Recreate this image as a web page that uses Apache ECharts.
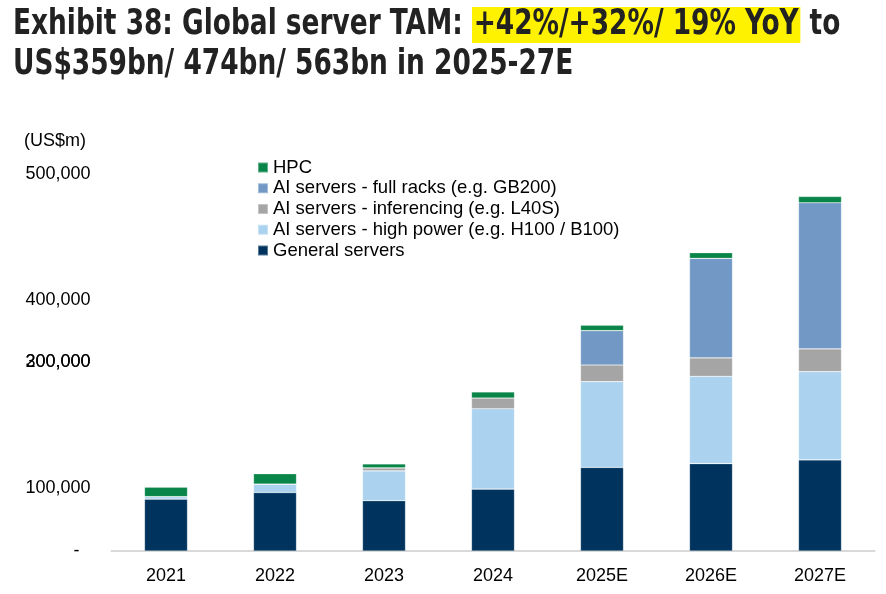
<!DOCTYPE html>
<html>
<head>
<meta charset="utf-8">
<script src="https://cdn.jsdelivr.net/npm/echarts@6/dist/echarts.min.js"></script>
<style>
html,body{margin:0;padding:0;background:#fff;}
#chart{width:886px;height:594px;}
</style>
</head>
<body>
<div id="chart"></div>
<script>
// ---- data (US$m) ----
const categories = ['2021', '2022', '2023', '2024', '2025E', '2026E', '2027E'];
const generalServers = [82500, 93000, 80000, 98500, 133000, 139000, 145000];
const aiHighPower    = [4000, 13500, 47500, 128000, 136500, 139000, 140500];
const aiInferencing  = [0, 0, 4800, 17000, 26500, 29300, 36200];
const aiFullRacks    = [0, 0, 0, 0, 54700, 158400, 232500];
const hpc            = [15000, 16400, 6400, 9600, 8500, 9100, 10000];

// y-axis tick labels as printed in the source (value -> label)
const yTickValues = [0, 100000, 200000, 300000, 400000, 500000, 600000];
const yTickLabels = ['-', '100,000', '', '300,000', '400,000', '', '500,000'];
const yOverlayLabels = ['', '', '', '200,000', '', '', ''];

const seriesNames = [
  'General servers',
  'AI servers - high power (e.g. H100 / B100)',
  'AI servers - inferencing (e.g. L40S)',
  'AI servers - full racks (e.g. GB200)',
  'HPC'
];
const seriesColors = ['#00345E', '#ABD3F0', '#A5A5A5', '#7299C5', '#0A8549'];
const seriesData = [generalServers, aiHighPower, aiInferencing, aiFullRacks, hpc];

const FONT = '"Liberation Sans", Arial, sans-serif';
const TITLE_FONT = '"DejaVu Sans Condensed", "DejaVu Sans", sans-serif';

function labelFor(list) {
  return function (v) {
    const i = yTickValues.indexOf(v);
    if (i < 0) return '';
    const s = list[i];
    if (s === '-') return '{d|-}';
    return s;
  };
}

const chart = echarts.init(document.getElementById('chart'), null, {renderer: 'canvas'});
const yAxisCommon = {
  type: 'value',
  min: 0,
  max: 600000,
  interval: 100000,
  position: 'left',
  axisLine: {show: false},
  axisTick: {show: false},
  splitLine: {show: false}
};
const option = {
  backgroundColor: '#ffffff',
  animation: false,
  title: [
    {
      left: 24,
      top: 132,
      padding: 0,
      text: '(US$m)',
      textStyle: {fontFamily: FONT, fontWeight: 'normal', fontSize: 18, color: '#000'}
    }
  ],
  graphic: [
    {
      type: 'text',
      x: 13,
      y: 5,
      scaleX: 0.815,
      scaleY: 1,
      silent: true,
      style: {
        x: 0,
        y: 0,
        verticalAlign: 'top',
        text: '{a|Exhibit 38: Global server TAM: }{h|+42%/+32%/ 19% YoY}{a| to}\n{a|US$359bn/ 474bn/ 563bn in 2025-27E}',
        rich: {
          a: {fontFamily: TITLE_FONT, fontWeight: 'bold', fontSize: 36, fill: '#222222', lineHeight: 40},
          h: {fontFamily: TITLE_FONT, fontWeight: 'bold', fontSize: 36, fill: '#222222', lineHeight: 40, backgroundColor: '#FFF200', padding: [0, 2, 0, 2]}
        }
      }
    }
  ],
  legend: {
    orient: 'vertical',
    left: 257,
    top: 158,
    padding: 0,
    itemWidth: 10,
    itemHeight: 10,
    itemGap: 1.75,
    icon: 'rect',
    data: seriesNames.slice().reverse(),
    textStyle: {fontFamily: FONT, fontSize: 18.5, color: '#000', lineHeight: 18}
  },
  grid: {left: 111.5, right: 11.5, top: 174, bottom: 43, containLabel: false},
  xAxis: {
    type: 'category',
    data: categories,
    axisLine: {show: true, lineStyle: {color: '#D9D9D9', width: 2}},
    axisTick: {show: false},
    axisLabel: {fontFamily: FONT, fontSize: 18, color: '#000', margin: 16}
  },
  yAxis: [
    Object.assign({}, yAxisCommon, {
      axisLabel: {
        fontFamily: FONT, fontSize: 18, color: '#000', margin: 21,
        formatter: labelFor(yTickLabels),
        rich: {d: {fontFamily: FONT, fontSize: 18, color: '#000', padding: [0, 11, 0, 0]}}
      }
    }),
    Object.assign({}, yAxisCommon, {
      axisLabel: {
        fontFamily: FONT, fontSize: 18, color: '#000', margin: 21,
        formatter: labelFor(yOverlayLabels)
      }
    })
  ],
  series: seriesNames.map(function (name, i) {
    return {
      name: name,
      type: 'bar',
      stack: 'total',
      yAxisIndex: 0,
      barWidth: 43,
      data: seriesData[i],
      itemStyle: {color: seriesColors[i], borderColor: 'rgba(255,255,255,0.35)', borderWidth: 0.6}
    };
  })
};
chart.setOption(option);
</script>
</body>
</html>
